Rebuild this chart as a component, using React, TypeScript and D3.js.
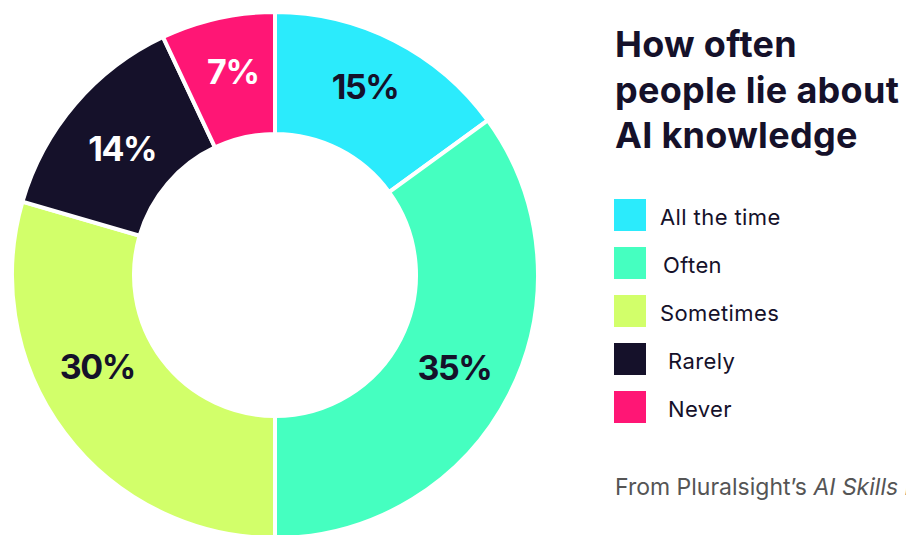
import React from "react";
import * as d3 from "d3";

const categories = ["All the time", "Often", "Sometimes", "Rarely", "Never"];
const values = [15, 35, 29.5, 13.5, 7];
const labels = ["15%", "35%", "30%", "14%", "7%"];
const colors = ["#2BEBFC", "#45FFC0", "#D2FF6A", "#15112A", "#FF1675"];
const labelColors = ["#15112A", "#15112A", "#15112A", "#FFFFFF", "#FFFFFF"];
const titleLines = ["How often", "people lie about", "AI knowledge"];
const footerPlain = "From Pluralsight’s ";
const footerItalic = "AI Skills Report";

const W = 906;
const H = 535;
const FONT = "Inter, 'Open Sans', sans-serif";

export default function App() {
  const cx = 275;
  const cy = 275;
  const outerR = 263;
  const innerR = 141;

  const pie = d3.pie<number>().sort(null).value((d) => d)(values);
  const arc = d3.arc<d3.PieArcDatum<number>>().innerRadius(innerR).outerRadius(outerR);

  // label placement tweaks (radius and angle nudge in degrees) to follow the reference
  const labelRadius = [209, 202, 200, 198, 208];
  const labelNudgeDeg = [-1.45, 0.3, 9.6, -1, 0.9];
  const labelPos = pie.map((p, i) => {
    const a = (p.startAngle + p.endAngle) / 2 + (labelNudgeDeg[i] * Math.PI) / 180;
    return [labelRadius[i] * Math.sin(a), -labelRadius[i] * Math.cos(a)];
  });

  const legendY = d3.scaleBand<string>().domain(categories).range([199, 199 + 48 * 5]);
  const legendIndent = [0, 3, 0, 8, 8];

  return (
    <svg width={W} height={H} style={{ position: "fixed", left: 0, top: 0, background: "#fff" }}>
      <g transform={`translate(${cx},${cy})`}>
        {pie.map((p, i) => (
          <path key={i} d={arc(p) || ""} fill={colors[i]} stroke="#fff" strokeWidth={4} strokeLinejoin="miter" />
        ))}
        {pie.map((p, i) => (
          <text
            key={"l" + i}
            x={labelPos[i][0]}
            y={labelPos[i][1]}
            dy="0.36em"
            textAnchor="middle"
            fontFamily={FONT}
            fontWeight={700}
            fontSize={34}
            letterSpacing={-1.4}
            fill={labelColors[i]}
          >
            {labels[i]}
          </text>
        ))}
      </g>
      {titleLines.map((t, i) => (
        <text
          key={"t" + i}
          x={615}
          y={57 + i * 45.5}
          fontFamily={FONT}
          fontWeight={700}
          fontSize={36}
          letterSpacing={0.3}
          fill="#15112A"
        >
          {t}
        </text>
      ))}
      {categories.map((c, i) => (
        <g key={"g" + i} transform={`translate(614,${legendY(c)})`}>
          <rect width={32} height={32} fill={colors[i]} />
          <text
            x={46 + legendIndent[i]}
            y={26}
            fontFamily={FONT}
            fontSize={22}
            letterSpacing={0.4}
            fill="#15112A"
          >
            {c}
          </text>
        </g>
      ))}
      <text x={615} y={495} fontFamily={FONT} fontSize={23} fill="#555">
        {footerPlain}
        <tspan fontStyle="italic">{footerItalic}</tspan>
      </text>
    </svg>
  );
}
